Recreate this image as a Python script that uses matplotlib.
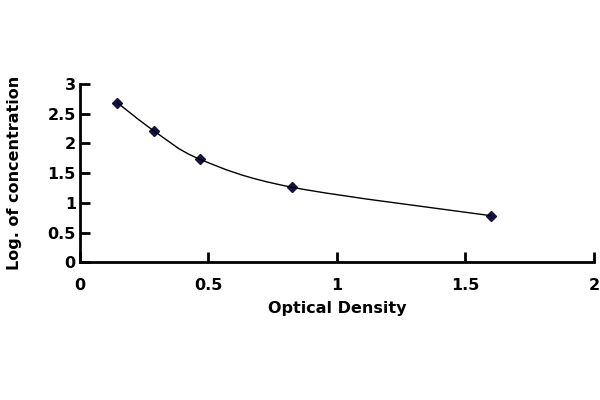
import matplotlib.pyplot as plt
import matplotlib as mpl
import numpy as np
from matplotlib.path import Path
from matplotlib.patches import PathPatch
from matplotlib.transforms import IdentityTransform

mpl.rcParams['font.family'] = ['DejaVu Sans']
mpl.rcParams['font.weight'] = 'bold'

# standard curve values
od = [0.145, 0.287, 0.467, 0.826, 1.600]
log_conc = [2.687, 2.215, 1.734, 1.263, 0.785]

x_ticks = [0, 0.5, 1, 1.5, 2]
y_ticks = [0, 0.5, 1, 1.5, 2, 2.5, 3]

fig = plt.figure(figsize=(6, 4), dpi=100)
ax = fig.add_axes([0.1333, 0.344, 0.8567, 0.446])
ax.set_xlim(0, 2)
ax.set_ylim(0, 3)
ax.set_xticks(x_ticks)
ax.set_yticks(y_ticks)
ax.set_xticklabels(['0', '0.5', '1', '1.5', '2'])
ax.set_yticklabels(['0', '0.5', '1', '1.5', '2', '2.5', '3'])

for s in ['top', 'right']:
    ax.spines[s].set_visible(False)
for s in ['left', 'bottom']:
    ax.spines[s].set_linewidth(2)
ax.tick_params(direction='in', length=7, width=2, labelsize=11.5)
ax.tick_params(axis='y', pad=3)
ax.tick_params(axis='x', pad=11)

# smoothed line (Excel-style bezier) built in display space
pts = ax.transData.transform(np.column_stack([od, log_conc]))
n = len(pts)
verts = [pts[0]]
codes = [Path.MOVETO]
for i in range(n - 1):
    p0 = pts[max(i - 1, 0)]
    p1 = pts[i]
    p2 = pts[i + 1]
    p3 = pts[min(i + 2, n - 1)]
    c1 = p1 + (p2 - p0) / 6.0
    c2 = p2 - (p3 - p1) / 6.0
    verts += [c1, c2, p2]
    codes += [Path.CURVE4] * 3
curve = PathPatch(Path(verts, codes), facecolor='none', edgecolor='black',
                  linewidth=1.0, transform=IdentityTransform())
fig.add_artist(curve)

ax.plot(od, log_conc, linestyle='none', marker='D', markersize=5.5,
        color='#14143f', zorder=5)

ax.set_xlabel('Optical Density', fontsize=11.5, fontweight='bold', va='center')
ax.set_ylabel('Log. of concentration', fontsize=11.5, fontweight='bold', va='center')
ax.xaxis.set_label_coords(0.5, -0.256)
ax.yaxis.set_label_coords(-0.128, 0.5)

fig.savefig('out.png', dpi=100)
